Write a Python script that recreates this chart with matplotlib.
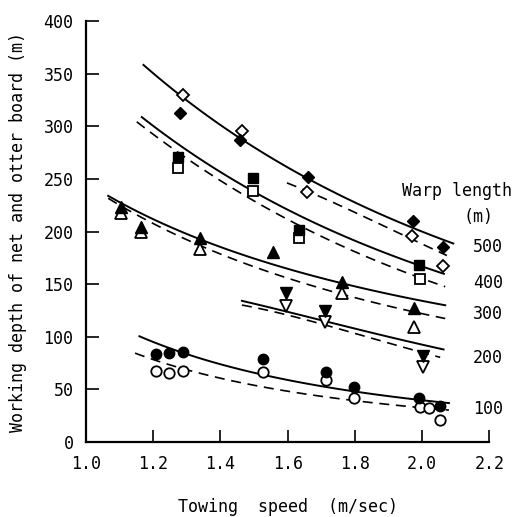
import numpy as np
import matplotlib
matplotlib.use('Agg')
import matplotlib.pyplot as plt

plt.rcParams['font.family'] = ['DejaVu Sans Mono']

# measured points: (speed, depth), filled = net, open = otter board
d500_filled_x = [1.28, 1.459, 1.661, 1.974, 2.063]
d500_filled_y = [312.6, 286.9, 251.8, 210.0, 185.3]
d500_open_x = [1.289, 1.465, 1.658, 1.971, 2.063]
d500_open_y = [329.7, 295.5, 237.5, 195.7, 167.2]

d400_filled_x = [1.274, 1.497, 1.634, 1.992]
d400_filled_y = [270.8, 250.8, 201.4, 168.2]
d400_open_x = [1.274, 1.497, 1.634, 1.993]
d400_open_y = [260.3, 238.5, 193.8, 154.6]

d300_filled_x = [1.103, 1.163, 1.339, 1.556, 1.761, 1.975]
d300_filled_y = [223.6, 204.5, 193.5, 180.8, 152.3, 127.0]
d300_open_x = [1.103, 1.163, 1.339, 1.761, 1.977]
d300_open_y = [218.0, 199.8, 183.1, 141.3, 109.6]

d200_filled_x = [1.596, 1.712, 2.003]
d200_filled_y = [141.3, 124.8, 81.7]
d200_open_x = [1.596, 1.712, 2.003]
d200_open_y = [129.2, 114.3, 71.5]

d100_filled_x = [1.208, 1.248, 1.288, 1.528, 1.715, 1.798, 1.99, 2.052]
d100_filled_y = [83.6, 84.3, 85.8, 78.9, 66.8, 52.5, 41.5, 34.2]
d100_open_x = [1.208, 1.248, 1.288, 1.528, 1.715, 1.798, 1.995, 2.02, 2.052]
d100_open_y = [67.8, 65.9, 67.8, 66.8, 58.9, 42.1, 33.0, 32.0, 20.9]

# points (solid = net, dashed = otter board)
c500_solid = ([1.171, 1.459, 1.727, 2.093], [358, 290, 238, 189])
c500_dash = ([1.598, 1.727, 1.971, 2.074], [247.3, 226.8, 195, 176])
c400_solid = ([1.166, 1.497, 1.992, 2.065], [309, 238, 169, 159])
c400_dash = ([1.151, 1.497, 1.993, 2.069], [304.3, 230, 155.5, 148.2])
c300_solid = ([1.066, 1.339, 1.697, 2.069], [233.7, 193.5, 155.5, 130.2])
c300_dash = ([1.066, 1.339, 1.697, 2.069], [231.5, 187.2, 146, 117.5])
c200_solid = ([1.464, 1.76, 2.064], [134.2, 111, 88])
c200_dash = ([1.464, 1.712, 2.054], [130.2, 111.2, 80.5])
c100_solid = ([1.159, 1.369, 1.53, 2.08], [100.7, 76.3, 64, 37])
c100_dash = ([1.146, 1.369, 1.488, 2.08], [84.3, 63.7, 54.2, 30.4])

warp_lengths = ['500', '400', '300', '200', '100']
warp_label_y = [185, 151, 122, 80, 31]

fig = plt.figure(figsize=(5.15, 5.17), dpi=100)
ax = fig.add_axes([0.167, 0.145, 0.783, 0.814])


def draw_curve(pts, ls):
    x, y = pts
    coef = np.polyfit(np.log(x), np.log(y), 2)
    xs = np.linspace(x[0], x[-1], 100)
    ys = np.exp(np.polyval(coef, np.log(xs)))
    if ls == '-':
        ax.plot(xs, ys, color='black', lw=1.4, ls='-')
    else:
        ax.plot(xs, ys, color='black', lw=1.2, ls=(0, (6, 4)))


for c in [c500_solid, c400_solid, c300_solid, c200_solid, c100_solid]:
    draw_curve(c, '-')
for c in [c500_dash, c400_dash, c300_dash, c200_dash, c100_dash]:
    draw_curve(c, '--')

series = [
    (d500_filled_x, d500_filled_y, d500_open_x, d500_open_y, 'D', 6.5),
    (d400_filled_x, d400_filled_y, d400_open_x, d400_open_y, 's', 7),
    (d300_filled_x, d300_filled_y, d300_open_x, d300_open_y, '^', 8),
    (d200_filled_x, d200_filled_y, d200_open_x, d200_open_y, 'v', 8),
    (d100_filled_x, d100_filled_y, d100_open_x, d100_open_y, 'o', 7.5),
]
for fx, fy, ox, oy, m, ms in series:
    ax.plot(ox, oy, ls='none', marker=m, ms=ms, mfc='white', mec='black', mew=1.3, zorder=3)
    ax.plot(fx, fy, ls='none', marker=m, ms=ms, mfc='black', mec='black', mew=1.0, zorder=4)

ax.set_xlim(1.0, 2.2)
ax.set_ylim(0, 400)
ax.set_xticks([1.0, 1.2, 1.4, 1.6, 1.8, 2.0, 2.2])
ax.set_xticklabels(['1.0', '1.2', '1.4', '1.6', '1.8', '2.0', '2.2'])
ax.set_yticks(range(0, 401, 50))
ax.spines['top'].set_visible(False)
ax.spines['right'].set_visible(False)
for s in ['left', 'bottom']:
    ax.spines[s].set_linewidth(1.6)
ax.tick_params(direction='in', length=9, width=1.2, labelsize=12, pad=9)

ax.set_xlabel('Towing  speed  (m/sec)', fontsize=12, labelpad=18)
ax.set_ylabel('Working depth of net and otter board (m)', fontsize=12, labelpad=12)

ax.text(2.105, 239, 'Warp length', fontsize=12, ha='center', va='center', clip_on=False)
ax.text(2.167, 214, '(m)', fontsize=12, ha='center', va='center', clip_on=False)
for lab, ly in zip(warp_lengths, warp_label_y):
    ax.text(2.197, ly, lab, fontsize=12, ha='center', va='center', clip_on=False)

fig.savefig('out.png', dpi=100)
